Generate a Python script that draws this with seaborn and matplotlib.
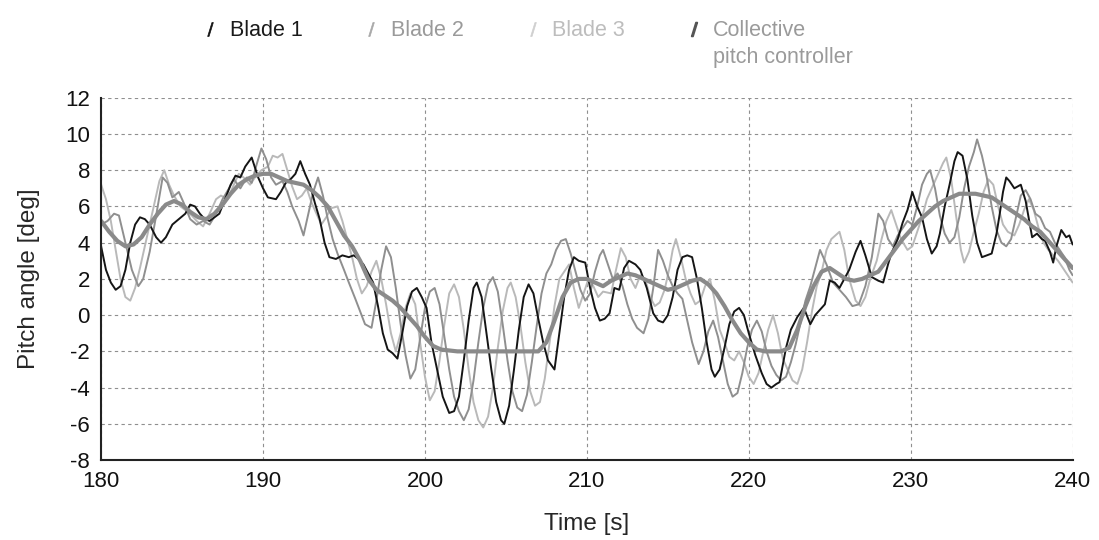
import matplotlib
matplotlib.use("Agg")
import matplotlib.pyplot as plt
from matplotlib.lines import Line2D
import seaborn as sns
import pandas as pd

# ---------------- data ----------------
b1_t = [180.0,180.3,180.6,180.9,181.2,181.5,181.8,182.1,182.4,182.7,183.0,183.4,183.7,184.0,184.4,184.8,185.2,185.5,185.8,186.1,
        186.4,186.7,187.0,187.3,187.7,188.0,188.3,188.6,188.9,189.3,189.7,190.0,190.3,190.8,191.1,191.4,191.7,192.0,192.3,192.6,
        192.9,193.2,193.5,193.8,194.1,194.5,194.9,195.3,195.6,195.9,196.2,196.5,196.8,197.1,197.4,197.7,198.0,198.3,198.6,198.9,
        199.2,199.5,199.8,200.1,200.4,200.8,201.1,201.5,201.8,202.1,202.4,202.7,203.0,203.2,203.5,203.8,204.1,204.4,204.7,204.9,
        205.2,205.5,205.8,206.1,206.4,206.7,207.0,207.3,207.6,208.0,208.3,208.6,208.9,209.2,209.5,209.9,210.2,210.5,210.8,211.1,
        211.4,211.7,212.0,212.3,212.6,213.0,213.3,213.7,214.1,214.4,214.7,215.0,215.3,215.6,215.9,216.2,216.5,216.8,217.1,217.4,
        217.7,217.9,218.2,218.5,218.8,219.1,219.4,219.7,220.0,220.4,220.8,221.1,221.4,221.7,221.9,222.3,222.6,223.0,223.4,223.8,
        224.1,224.4,224.7,225.0,225.3,225.6,225.9,226.2,226.6,226.9,227.2,227.6,228.0,228.3,228.6,228.8,229.2,229.5,229.8,230.1,
        230.4,230.7,231.0,231.3,231.6,231.8,232.1,232.4,232.7,232.9,233.2,233.5,233.8,234.1,234.4,234.7,235.0,235.3,235.5,235.7,
        235.9,236.1,236.4,236.6,236.8,237.1,237.5,237.8,238.1,238.3,238.6,238.8,239.0,239.3,239.6,239.8,240.0]
b1_v = [3.8,2.5,1.8,1.4,1.6,2.5,4.0,5.0,5.4,5.3,5.0,4.3,4.0,4.3,5.0,5.3,5.6,6.1,6.0,5.6,
        5.3,5.2,5.4,5.6,6.5,7.2,7.7,7.6,8.2,8.7,7.6,7.0,6.5,6.4,6.8,7.3,7.5,7.8,8.5,7.8,
        7.2,6.2,5.3,4.0,3.2,3.1,3.3,3.2,3.3,3.1,2.8,2.3,1.8,0.5,-1.0,-1.9,-2.1,-2.4,-1.0,0.5,
        1.3,1.5,1.0,0.4,-1.5,-3.2,-4.5,-5.4,-5.3,-4.5,-2.5,-0.3,1.5,1.8,1.0,-1.0,-3.0,-4.8,-5.8,-6.0,
        -5.0,-3.0,-0.8,1.0,1.7,1.2,-0.2,-1.5,-2.5,-3.0,-1.0,1.0,2.5,3.2,3.0,2.9,1.5,0.4,-0.3,-0.2,
        0.1,1.5,1.4,2.6,3.0,2.8,2.5,1.5,0.1,-0.3,-0.4,0.0,1.0,2.5,3.2,3.3,3.2,2.0,0.4,-1.5,
        -3.0,-3.4,-3.0,-1.8,-0.5,0.2,0.4,0.0,-1.0,-2.2,-3.2,-3.8,-4.0,-3.8,-3.7,-1.8,-0.8,-0.1,0.4,-0.5,
        0.0,0.3,0.6,1.9,1.8,1.5,2.0,2.5,3.5,4.1,3.3,2.1,1.9,1.8,2.8,3.4,4.2,5.1,5.8,6.8,
        6.0,5.4,4.2,3.4,3.8,4.5,6.0,7.2,8.5,9.0,8.8,7.5,5.5,4.0,3.2,3.3,3.4,4.5,5.6,6.8,
        7.6,7.4,7.0,7.1,7.2,6.3,4.3,4.5,4.2,4.1,3.5,2.9,3.8,4.7,4.3,4.4,3.9]

b2_t = [180.0,180.4,180.8,181.1,181.5,181.9,182.3,182.6,183.0,183.4,183.8,184.1,184.4,184.8,185.1,185.5,185.9,186.3,186.7,187.1,
        187.5,187.9,188.2,188.6,189.0,189.3,189.6,189.9,190.2,190.5,190.8,191.2,191.5,191.8,192.2,192.5,192.8,193.1,193.4,193.7,
        194.0,194.3,194.6,195.0,195.3,195.7,196.0,196.3,196.7,197.0,197.3,197.6,197.9,198.2,198.5,198.8,199.1,199.4,199.7,200.0,
        200.3,200.6,200.9,201.2,201.5,201.8,202.1,202.4,202.7,203.0,203.3,203.6,203.9,204.2,204.5,204.8,205.1,205.4,205.7,206.0,
        206.3,206.6,206.9,207.2,207.5,207.8,208.1,208.4,208.7,209.0,209.3,209.6,209.9,210.2,210.5,210.8,211.0,211.3,211.6,211.9,
        212.2,212.5,212.8,213.1,213.5,213.8,214.1,214.4,214.7,215.0,215.3,215.6,215.9,216.2,216.5,216.9,217.2,217.5,217.8,218.1,
        218.4,218.7,219.0,219.3,219.6,219.9,220.2,220.5,220.8,221.1,221.4,221.7,222.0,222.3,222.6,222.9,223.2,223.5,223.8,224.1,
        224.4,224.8,225.2,225.6,226.0,226.4,226.8,227.2,227.6,228.0,228.3,228.6,228.9,229.2,229.5,229.8,230.1,230.4,230.7,231.0,
        231.2,231.5,231.8,232.1,232.4,232.7,233.0,233.3,233.6,233.9,234.1,234.4,234.7,235.0,235.3,235.6,235.9,236.2,236.5,236.8,
        237.1,237.4,237.7,238.0,238.3,238.6,238.9,239.2,239.5,239.8,240.0]
b2_v = [5.0,5.2,5.6,5.5,4.0,2.5,1.6,2.0,3.5,5.5,7.6,7.3,6.5,6.8,6.2,5.3,5.0,5.2,5.0,5.6,
        6.4,7.0,7.5,7.0,7.6,7.3,8.3,9.2,8.6,7.6,7.2,7.4,6.8,6.0,5.2,4.4,5.6,6.8,7.6,6.6,
        5.3,4.2,3.4,2.5,1.8,0.9,0.2,-0.5,-0.7,0.8,2.5,3.8,3.2,1.5,-0.5,-2.2,-3.5,-3.0,-1.3,0.4,
        1.3,1.5,0.6,-1.2,-3.0,-4.5,-5.3,-5.8,-5.2,-3.6,-1.5,0.4,1.7,2.1,1.3,-0.5,-2.5,-4.2,-5.1,-5.3,
        -4.4,-2.6,-0.6,1.2,2.3,2.8,3.6,4.1,4.2,3.4,2.4,1.4,0.8,1.2,2.4,3.3,3.6,2.8,2.0,2.3,
        1.6,0.6,-0.2,-0.7,-1.0,-0.2,1.5,3.6,3.0,2.2,1.6,1.2,0.9,-0.3,-1.5,-2.7,-2.0,-0.9,-0.3,-1.2,
        -2.5,-3.8,-4.5,-4.3,-3.2,-1.8,-0.8,-0.3,-0.9,-2.0,-2.8,-3.3,-3.6,-3.4,-2.6,-1.6,-0.4,0.8,1.6,2.6,
        3.6,2.8,1.8,1.4,1.0,0.5,0.6,1.6,3.2,5.6,5.2,4.2,3.8,4.4,4.8,5.2,5.0,6.0,7.2,7.8,
        8.0,7.0,5.5,4.5,4.0,4.3,5.4,7.0,8.2,9.0,9.7,8.8,7.6,6.0,4.7,4.0,3.8,4.2,5.4,6.6,
        6.9,6.4,5.6,5.4,4.8,4.6,4.0,3.6,3.2,2.5,2.2]

b3_t = [180.0,180.3,180.6,180.9,181.2,181.5,181.8,182.1,182.4,182.7,183.0,183.3,183.6,183.9,184.2,184.5,184.9,185.2,185.6,185.9,
        186.3,186.7,187.1,187.4,187.8,188.1,188.5,188.8,189.2,189.5,189.9,190.3,190.6,190.9,191.2,191.5,191.8,192.1,192.4,192.7,
        193.0,193.3,193.6,193.9,194.2,194.6,194.9,195.2,195.5,195.8,196.1,196.4,196.7,197.0,197.3,197.6,197.9,198.2,198.5,198.8,
        199.1,199.4,199.7,200.0,200.3,200.6,200.9,201.2,201.5,201.8,202.1,202.4,202.7,203.0,203.3,203.6,203.9,204.2,204.5,204.8,
        205.1,205.3,205.6,205.9,206.2,206.5,206.8,207.1,207.4,207.7,208.0,208.3,208.6,208.9,209.2,209.5,209.8,210.1,210.4,210.7,
        211.0,211.5,211.8,212.1,212.4,212.7,213.0,213.3,213.6,213.9,214.2,214.5,214.8,215.1,215.3,215.5,215.8,216.1,216.4,216.7,
        217.0,217.3,217.6,217.9,218.2,218.5,218.8,219.1,219.4,219.7,220.0,220.3,220.6,220.9,221.2,221.5,221.8,222.1,222.4,222.7,
        223.0,223.3,223.6,223.9,224.2,224.5,224.8,225.1,225.6,225.9,226.2,226.6,226.9,227.2,227.5,227.9,228.2,228.5,228.8,229.1,
        229.4,229.8,230.1,230.4,230.7,231.0,231.3,231.6,232.0,232.2,232.5,232.8,233.1,233.3,233.6,233.9,234.2,234.5,234.8,235.1,
        235.4,235.7,236.0,236.4,236.7,237.0,237.3,237.6,237.9,238.2,238.5,238.8,239.1,239.4,239.7,240.0]
b3_v = [7.2,6.4,5.2,3.6,2.0,1.0,0.8,1.5,2.6,3.8,5.0,6.2,7.4,8.0,7.2,6.6,6.0,5.8,5.5,5.2,
        4.9,5.6,6.4,6.6,6.4,7.0,7.8,7.6,7.2,7.6,8.0,8.2,8.8,8.7,8.9,8.0,7.1,6.4,6.6,7.0,
        6.2,5.6,5.0,5.4,5.9,6.0,5.2,4.2,3.2,2.0,1.2,1.6,2.4,3.0,2.0,0.6,-1.0,-2.0,-1.0,0.4,
        1.2,0.6,-1.5,-3.4,-4.7,-4.2,-2.5,-0.5,1.2,1.7,1.0,-0.8,-3.0,-4.8,-5.8,-6.2,-5.6,-4.0,-1.8,0.2,
        1.5,1.8,1.0,-0.6,-2.6,-4.2,-5.0,-4.8,-3.5,-1.5,0.5,2.0,2.4,2.8,1.5,0.4,1.2,2.0,1.6,1.0,
        1.3,1.2,2.5,3.7,3.2,2.0,1.5,2.2,2.0,1.0,0.5,0.7,1.4,2.6,3.6,4.2,3.2,2.0,1.2,0.6,
        0.8,1.6,2.0,0.8,-0.8,-1.5,-2.3,-2.5,-2.0,-2.6,-3.4,-3.8,-3.2,-2.0,-0.8,0.0,-1.0,-2.4,-3.0,-3.6,
        -3.8,-3.0,-1.5,0.2,1.6,2.4,3.6,4.2,4.6,3.6,2.0,0.8,0.5,1.0,2.0,3.0,4.2,5.2,5.8,5.0,
        4.2,3.6,3.8,4.6,5.4,6.4,7.0,7.6,8.4,8.7,7.5,5.5,3.6,2.9,3.5,4.6,5.6,6.8,7.5,7.2,
        6.0,5.0,4.6,4.4,5.0,5.8,6.4,5.8,4.8,4.0,3.6,3.3,3.0,2.6,2.2,1.8]

col_t = [180.0,180.5,181.0,181.5,182.0,182.5,183.0,183.5,184.0,184.5,185.0,185.5,186.0,186.5,187.0,187.5,188.0,188.5,189.0,189.5,
         190.0,190.5,191.0,191.5,192.0,192.5,193.0,193.5,194.0,194.5,195.0,195.5,196.0,196.5,197.0,197.5,198.0,198.5,199.0,199.5,
         200.0,200.5,201.0,202.0,203.0,204.0,205.0,206.0,207.0,207.5,208.0,208.5,209.0,209.5,210.0,210.5,211.0,211.5,212.0,212.5,
         213.0,213.5,214.0,214.5,215.0,215.5,216.0,216.5,217.0,217.5,218.0,218.5,219.0,219.5,220.0,220.5,221.0,221.5,222.0,222.5,
         223.0,223.5,224.0,224.5,225.0,225.5,226.0,226.5,227.0,227.5,228.0,228.5,229.0,229.5,230.0,230.5,231.0,231.5,232.0,232.5,
         233.0,233.5,234.0,234.5,235.0,235.5,236.0,236.5,237.0,237.5,238.0,238.5,239.0,239.5,240.0]
col_v = [5.2,4.6,4.1,3.8,3.9,4.3,5.0,5.6,6.1,6.3,6.1,5.7,5.4,5.3,5.6,6.1,6.7,7.2,7.5,7.7,
         7.8,7.8,7.6,7.4,7.3,7.2,6.9,6.5,6.0,5.2,4.4,3.8,3.0,2.0,1.4,1.1,0.8,0.4,-0.1,-0.6,
         -1.2,-1.7,-1.9,-2.0,-2.0,-2.0,-2.0,-2.0,-2.0,-1.5,-0.3,1.0,1.8,2.0,2.0,1.8,1.6,1.9,2.1,2.3,
         2.2,2.0,1.8,1.6,1.4,1.5,1.7,1.9,2.0,1.7,1.2,0.5,-0.3,-1.0,-1.5,-1.9,-2.0,-2.0,-2.0,-1.8,
         -0.8,0.5,1.6,2.4,2.6,2.3,2.0,1.9,2.0,2.2,2.4,3.0,3.6,4.2,4.7,5.2,5.6,6.0,6.3,6.5,
         6.7,6.7,6.7,6.6,6.5,6.2,5.9,5.6,5.3,4.9,4.6,4.1,3.6,3.1,2.6]

x_ticks = [180, 190, 200, 210, 220, 230, 240]
y_ticks = [-8, -6, -4, -2, 0, 2, 4, 6, 8, 10, 12]
series_labels = ["Blade 1", "Blade 2", "Blade 3", "Collective"]
series_label_line2 = "pitch controller"
x_label = "Time [s]"
y_label = "Pitch angle [deg]"

# ---------------- styling ----------------
sns.set_style("white")
plt.rcParams["font.family"] = ["Liberation Sans", "DejaVu Sans"]
plt.rcParams["axes.unicode_minus"] = False

line_colors = {"Blade 1": "#151515", "Blade 2": "#8f8f8f", "Blade 3": "#b9b9b9", "Collective": "#8a8a8a"}
line_widths = {"Blade 1": 1.4, "Blade 2": 1.4, "Blade 3": 1.4, "Collective": 3.0}
text_colors = ["#1a1a1a", "#9a9a9a", "#bdbdbd", "#9a9a9a"]
handle_colors = ["#111111", "#a8a8a8", "#cfcfcf", "#555555"]

fig = plt.figure(figsize=(10.99, 5.40), dpi=100)
ax = fig.add_axes([0.092, 0.148, 0.884, 0.671])

frames = {
    "Blade 3": pd.DataFrame({"t": b3_t, "v": b3_v}),
    "Blade 2": pd.DataFrame({"t": b2_t, "v": b2_v}),
    "Blade 1": pd.DataFrame({"t": b1_t, "v": b1_v}),
    "Collective": pd.DataFrame({"t": col_t, "v": col_v}),
}
for name, df in frames.items():
    sns.lineplot(data=df, x="t", y="v", ax=ax, color=line_colors[name],
                 linewidth=line_widths[name], estimator=None, sort=False, legend=False)

ax.set_xlim(180, 240)
ax.set_ylim(-8, 12)
ax.set_xticks(x_ticks)
ax.set_yticks(y_ticks)
ax.set_xticklabels([str(v) for v in x_ticks])
ax.set_yticklabels([str(v) for v in y_ticks])
ax.grid(True, linestyle=(0, (3, 3)), color="#8f8f8f", linewidth=0.8)
ax.set_axisbelow(True)
for s in ["top", "right"]:
    ax.spines[s].set_visible(False)
for s in ["left", "bottom"]:
    ax.spines[s].set_color("#222222")
    ax.spines[s].set_linewidth(1.5)
ax.tick_params(direction="inout", length=10, width=1.5, labelsize=16, colors="#222222",
               labelcolor="#111111", pad=3)
ax.set_xlabel(x_label, fontsize=17.5, labelpad=15)
ax.set_ylabel(y_label, fontsize=17.5, labelpad=18)

handles = [Line2D([], [], color=c, marker="$/$", linestyle="None", markersize=10,
                  markeredgewidth=0.5 if i < 3 else 1.2)
           for i, c in enumerate(handle_colors)]
leg = fig.legend(handles, series_labels, loc="upper left", bbox_to_anchor=(0.165, 0.998),
                 ncol=4, frameon=False, fontsize=15.5, columnspacing=2.75,
                 handlelength=0.9, handletextpad=0.45, labelcolor=text_colors)

fig.canvas.draw()
bb = leg.get_texts()[3].get_window_extent()
inv = fig.transFigure.inverted()
x0, y0 = inv.transform((bb.x0, bb.y0))
fig.text(x0, y0 - 6 / 540, series_label_line2, fontsize=15.5, color=text_colors[3],
         ha="left", va="top")

fig.savefig("out.png", dpi=100)
